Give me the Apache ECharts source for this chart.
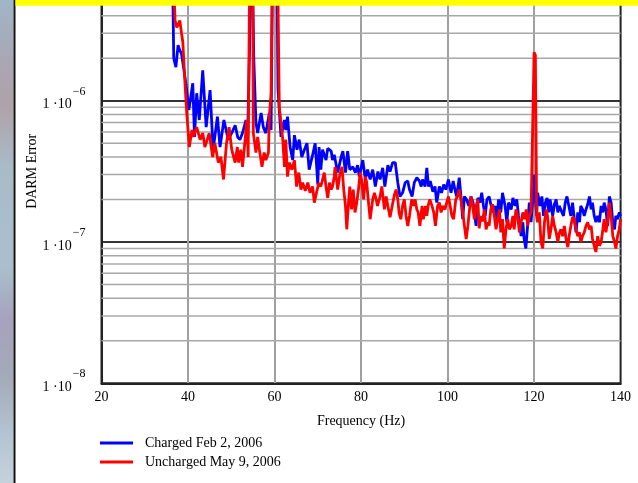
<!DOCTYPE html>
<html>
<head>
<meta charset="utf-8">
<script src="https://cdn.jsdelivr.net/npm/echarts@6/dist/echarts.min.js"></script>
<style>
  html, body { margin: 0; padding: 0; background: #fff; }
  #chart { width: 638px; height: 483px; }
</style>
</head>
<body>
<div id="chart"></div>
<script>
// frequency (Hz) and amplitude (units of 1e-7)
const blueFreq = [36.0, 36.5, 36.7, 37.2, 37.7, 38.1, 38.5, 39.0, 39.5, 40.2, 41.1, 41.5, 42.0, 42.6, 43.4, 44.2, 45.1, 45.8, 46.8, 47.4, 48.3, 49.3, 50.2, 50.9, 51.5, 52.0, 52.6, 53.4, 53.8, 54.3, 54.6, 54.9, 55.2, 55.7, 56.1, 56.9, 57.4, 58.0, 58.8, 59.2, 59.7, 60.4, 60.8, 61.1, 61.5, 62.3, 62.6, 63.0, 63.6, 64.2, 64.6, 65.2, 65.7, 66.3, 66.9, 67.5, 68.0, 68.7, 69.4, 70.0, 70.3, 70.7, 71.1, 71.9, 72.3, 73.1, 73.4, 73.8, 74.6, 75.4, 75.8, 76.4, 76.9, 77.4, 78.1, 78.7, 79.2, 79.6, 80.4, 81.0, 81.5, 82.1, 82.7, 83.3, 83.9, 84.4, 85.0, 85.5, 86.2, 86.7, 87.3, 87.9, 88.5, 89.0, 89.6, 90.2, 90.8, 91.2, 91.8, 92.3, 92.9, 93.5, 93.9, 94.2, 94.8, 95.2, 95.6, 96.0, 96.6, 97.1, 97.5, 98.1, 98.6, 99.1, 99.6, 100.2, 100.8, 101.3, 101.7, 102.1, 102.7, 103.1, 103.5, 103.9, 104.4, 104.9, 105.4, 105.9, 106.6, 107.0, 107.5, 107.9, 108.3, 108.7, 109.1, 109.6, 110.0, 110.6, 111.0, 111.4, 111.8, 112.3, 112.7, 113.3, 113.7, 114.1, 114.7, 115.1, 115.6, 116.0, 116.4, 117.0, 117.4, 117.7, 118.1, 118.5, 118.9, 119.3, 119.8, 120.0, 120.2, 120.6, 120.8, 121.4, 121.8, 122.2, 122.6, 123.0, 123.4, 123.7, 124.3, 124.7, 125.1, 125.5, 125.8, 126.2, 126.8, 127.2, 127.6, 128.0, 128.5, 128.9, 129.3, 129.7, 130.1, 130.5, 130.8, 131.2, 131.6, 132.0, 132.4, 132.8, 133.2, 133.5, 133.9, 134.3, 134.7, 135.1, 135.5, 135.9, 136.2, 136.6, 137.0, 137.4, 137.8, 138.2, 138.6, 138.9, 139.3, 139.7, 140.0]
const blueVal = [90, 55, 20, 17.3, 24.7, 22.7, 21.5, 17, 13.3, 8.6, 13.3, 5.55, 11.3, 7.3, 16.4, 6.5, 11.9, 4.5, 7.7, 4.7, 7.3, 5.3, 6.0, 6.7, 5.5, 5.3, 5.9, 7.3, 5.9, 30, 300, 300, 20, 7.0, 5.9, 8.2, 6.5, 5.9, 8.2, 6.2, 300, 300, 12, 8.6, 5.55, 7.3, 6.2, 7.7, 4.7, 3.8, 5.7, 4.5, 5.3, 4.0, 4.5, 5.0, 3.25, 4.0, 5.0, 2.55, 4.7, 3.25, 4.5, 3.8, 4.6, 4.4, 3.8, 4.15, 3.1, 4.0, 4.4, 3.1, 4.4, 3.25, 3.4, 3.1, 3.5, 2.9, 3.8, 2.77, 3.25, 2.77, 3.25, 2.47, 3.15, 2.77, 3.35, 2.47, 3.5, 3.15, 3.65, 3.65, 2.63, 2.1, 2.23, 2.63, 2.7, 2.35, 2.1, 2.63, 2.85, 2.7, 2.47, 2.77, 2.47, 3.35, 2.47, 2.7, 2.27, 2.47, 1.9, 2.47, 2.23, 2.55, 2.35, 2.77, 2.23, 2.7, 2.35, 2.1, 2.85, 2.1, 1.45, 2.1, 2.0, 1.8, 2.1, 1.9, 1.3, 2.05, 1.9, 2.23, 1.8, 1.53, 2.0, 2.1, 1.85, 1.62, 1.8, 1.45, 2.0, 1.62, 2.23, 1.8, 1.38, 1.9, 1.7, 2.05, 1.8, 2.0, 1.53, 1.1, 1.38, 1.05, 0.9, 1.3, 1.9, 1.38, 2.2, 3.0, 2.2, 1.53, 2.23, 1.8, 2.1, 1.53, 1.9, 2.05, 1.62, 2.0, 1.53, 1.85, 2.0, 1.62, 1.8, 1.8, 1.53, 1.9, 2.1, 2.15, 1.53, 1.9, 1.45, 1.17, 1.62, 1.38, 1.8, 1.7, 1.53, 1.7, 1.85, 2.1, 1.7, 1.9, 1.53, 1.38, 1.53, 1.38, 1.8, 1.62, 1.9, 1.7, 1.3, 2.1, 1.9, 1.38, 1.23, 1.53, 1.45, 1.62, 1.53]

const redFreq = [36.0, 36.6, 36.9, 37.0, 37.4, 37.8, 38.1, 38.5, 38.8, 39.3, 39.7, 40.3, 40.9, 41.2, 42.0, 42.8, 43.4, 43.9, 44.9, 45.7, 46.2, 47.0, 47.6, 48.2, 48.9, 49.5, 50.1, 50.9, 51.4, 51.7, 52.2, 52.6, 53.2, 53.6, 53.9, 54.4, 54.9, 55.1, 55.7, 56.1, 56.5, 57.1, 57.6, 58.0, 58.6, 58.8, 59.2, 59.7, 60.5, 61.1, 61.5, 61.9, 62.3, 62.6, 63.0, 63.4, 64.0, 64.6, 65.1, 65.6, 66.1, 66.5, 67.1, 67.7, 68.2, 68.8, 69.2, 69.7, 70.2, 70.7, 71.1, 71.5, 71.9, 72.3, 72.7, 73.1, 73.4, 73.8, 74.0, 74.6, 75.1, 75.6, 76.0, 76.4, 76.7, 77.1, 77.4, 77.8, 78.2, 78.6, 79.0, 79.4, 79.8, 80.1, 80.6, 81.0, 81.3, 81.8, 82.1, 82.7, 83.1, 83.5, 83.8, 84.4, 84.8, 85.4, 85.8, 86.2, 86.7, 87.2, 87.7, 88.1, 88.5, 88.8, 89.2, 89.6, 90.0, 90.4, 90.8, 91.2, 91.7, 92.1, 92.5, 92.9, 93.2, 93.6, 94.1, 94.4, 94.9, 95.2, 95.5, 95.9, 96.4, 96.8, 97.2, 97.7, 98.1, 98.5, 98.9, 99.4, 99.8, 100.2, 100.6, 101.0, 101.4, 101.9, 102.3, 102.7, 103.1, 103.5, 103.9, 104.3, 104.7, 105.0, 105.4, 105.8, 106.2, 106.6, 107.0, 107.3, 107.7, 108.1, 108.5, 108.9, 109.3, 109.6, 110.0, 110.4, 110.8, 111.2, 111.6, 112.0, 112.3, 112.7, 113.1, 113.5, 113.9, 114.3, 114.7, 115.1, 115.4, 115.8, 116.2, 116.6, 117.0, 117.4, 117.8, 118.2, 118.5, 118.9, 119.3, 119.7, 120.0, 120.3, 120.6, 120.8, 121.2, 121.6, 122.0, 122.4, 122.8, 123.1, 123.5, 123.9, 124.3, 124.7, 125.1, 125.5, 125.8, 126.2, 126.6, 127.0, 127.4, 127.8, 128.1, 128.5, 128.9, 129.3, 129.7, 130.1, 130.5, 130.8, 131.2, 131.6, 132.0, 132.4, 132.8, 133.2, 133.5, 133.9, 134.3, 134.7, 135.1, 135.5, 135.9, 136.2, 136.6, 137.0, 137.4, 137.8, 138.2, 138.6, 138.9, 139.3, 139.7, 140.0]
const redVal = [150, 90, 45, 37, 33, 35, 37, 30, 25.9, 13.3, 8.2, 4.7, 6.2, 5.55, 6.5, 5.3, 5.9, 4.7, 5.9, 4.0, 5.0, 3.65, 4.0, 2.77, 5.0, 6.5, 4.5, 3.65, 4.7, 3.65, 4.5, 3.4, 5.3, 7.3, 4.0, 300, 300, 5.9, 4.3, 5.55, 4.5, 3.4, 4.3, 3.8, 4.3, 7.7, 11.3, 300, 300, 9.0, 7.0, 5.3, 3.4, 5.3, 2.9, 3.65, 3.25, 3.8, 2.47, 3.1, 2.35, 2.63, 2.3, 2.63, 2.23, 2.47, 1.9, 2.23, 2.6, 2.47, 2.77, 3.1, 2.47, 2.05, 2.63, 2.35, 2.47, 2.9, 3.4, 2.35, 3.0, 3.4, 2.35, 1.8, 1.23, 1.9, 2.47, 1.7, 2.35, 1.62, 1.9, 2.35, 3.1, 2.77, 2.0, 2.9, 2.63, 1.8, 1.45, 2.0, 2.23, 2.0, 1.8, 2.1, 2.47, 1.7, 2.1, 1.8, 1.5, 1.8, 2.15, 2.35, 2.0, 1.6, 1.45, 1.8, 2.0, 1.53, 1.3, 1.53, 2.0, 1.8, 2.0, 1.7, 1.62, 1.3, 1.8, 1.45, 1.8, 1.53, 1.8, 2.0, 1.8, 1.62, 1.3, 1.8, 1.9, 1.62, 1.8, 1.7, 1.9, 2.1, 1.8, 1.53, 1.45, 2.0, 2.1, 2.35, 2.0, 1.62, 1.3, 1.05, 1.3, 1.62, 2.1, 1.8, 1.45, 1.8, 2.0, 1.25, 1.53, 1.4, 1.7, 1.23, 1.38, 1.3, 1.7, 1.85, 1.53, 1.23, 1.45, 1.7, 1.17, 1.45, 0.9, 1.23, 1.45, 1.23, 1.3, 1.53, 1.23, 1.7, 1.53, 1.17, 1.38, 1.62, 1.45, 1.7, 1.3, 1.53, 1.62, 1.6, 22, 21, 1.5, 1.38, 1.62, 1.0, 0.9, 1.38, 1.7, 1.53, 1.05, 1.23, 1.53, 1.3, 1.17, 1.0, 1.15, 1.23, 1.1, 1.3, 1.05, 0.92, 1.1, 1.3, 1.5, 1.45, 1.23, 1.1, 1.17, 1.0, 1.1, 1.17, 1.3, 1.38, 1.23, 1.3, 1.05, 0.94, 0.85, 1.1, 0.94, 1.0, 1.23, 1.45, 1.17, 1.38, 1.9, 1.53, 1.1, 1.0, 0.9, 1.1, 1.23, 1.45]

const seriesNames = ['Charged Feb 2, 2006', 'Uncharged May 9, 2006']
const xTicks = [20, 40, 60, 80, 100, 120, 140]
const decades = [1e-8, 1e-7, 1e-6, 1e-5]
const minorSteps = [2, 3, 4, 5, 6, 7, 8, 9]

const FONT = '"Liberation Serif", "DejaVu Serif", serif'
const UNIT = 1e-7

// minor horizontal grid lines (2..9 per decade)
const minorLevels = []
decades.slice(0, 3).forEach((d) => {
  minorSteps.forEach((m) => minorLevels.push(m * d))
})

const xMin = xTicks[0]
const xMax = xTicks[xTicks.length - 1]

// one flat line series per minor level, drawn under the data
const minorGridSeries = minorLevels.map((v) => ({
  type: 'line',
  silent: true,
  showSymbol: false,
  z: 1,
  lineStyle: { color: '#a8a8a8', width: 1.5 },
  emphasis: { disabled: true },
  data: [[xMin, v], [xMax, v]]
}))

const chart = echarts.init(document.getElementById('chart'), null, { renderer: 'canvas' })

const option = {
  animation: false,
  backgroundColor: '#fff',
  grid: {
    left: 101.5,
    right: 17.4,
    top: -40.6,
    bottom: 99.7,
    outerBoundsMode: 'none',
    show: true,
    borderColor: '#222',
    borderWidth: 2,
    backgroundColor: 'transparent'
  },
  legend: {
    data: seriesNames,
    orient: 'vertical',
    left: 95,
    top: 431,
    icon: 'rect',
    itemWidth: 33,
    itemHeight: 3,
    itemGap: 5,
    selectedMode: false,
    textStyle: { fontFamily: FONT, fontSize: 14, color: '#000', lineHeight: 14, padding: [0, 0, 0, 7] }
  },
  xAxis: {
    type: 'value',
    min: xMin,
    max: xMax,
    interval: 20,
    name: 'Frequency (Hz)',
    nameLocation: 'middle',
    nameGap: 31,
    nameTextStyle: { fontFamily: FONT, fontSize: 14, color: '#000' },
    axisLine: { show: true, lineStyle: { color: '#222', width: 2 } },
    axisTick: { show: false },
    axisLabel: { fontFamily: FONT, fontSize: 14, color: '#000', margin: 7 },
    splitLine: { show: true, showMinLine: false, showMaxLine: false, lineStyle: { color: '#a0a0a0', width: 2 } }
  },
  yAxis: {
    type: 'log',
    logBase: 10,
    min: decades[0],
    max: decades[decades.length - 1],
    name: 'DARM Error',
    nameLocation: 'middle',
    nameGap: 62,
    nameMoveOverlap: false,
    nameTextStyle: { fontFamily: FONT, fontSize: 14, color: '#000' },
    axisLine: { show: true, lineStyle: { color: '#222', width: 2 } },
    axisTick: { show: false },
    axisLabel: {
      margin: 16,
      padding: [0, 0, 4, 0],
      formatter: (value) => {
        const exp = Math.round(Math.log10(value))
        return '{b|1 \u00b710}{s|\u2212' + (-exp) + '}'
      },
      rich: {
        b: { fontFamily: FONT, fontSize: 14, color: '#000', lineHeight: 26, verticalAlign: 'bottom' },
        s: { fontFamily: FONT, fontSize: 12, color: '#000', lineHeight: 26, verticalAlign: 'top', padding: [0, 0, 0, 1] }
      }
    },
    splitLine: { show: true, showMinLine: false, lineStyle: { color: '#333', width: 2 } }
  },
  series: [
    ...minorGridSeries,
    {
      name: seriesNames[0],
      type: 'line',
      showSymbol: false,
      z: 3,
      color: '#0000ff',
      lineStyle: { color: '#0000ff', width: 2.8 },
      data: blueFreq.map((f, i) => [f, blueVal[i] * UNIT])
    },
    {
      name: seriesNames[1],
      type: 'line',
      showSymbol: false,
      z: 4,
      color: '#ff0000',
      lineStyle: { color: '#ff0000', width: 2.8 },
      data: redFreq.map((f, i) => [f, redVal[i] * UNIT])
    }
  ],
  graphic: [
    {
      type: 'rect',
      z: 100,
      shape: { x: 0, y: 0, width: 13.5, height: 483 },
      style: {
        fill: new echarts.graphic.LinearGradient(0, 0, 0, 1, [
          { offset: 0, color: '#9fb6c6' },
          { offset: 0.13, color: '#aaa6b4' },
          { offset: 0.22, color: '#b0a2aa' },
          { offset: 0.35, color: '#a8bcc8' },
          { offset: 0.55, color: '#a9c0cc' },
          { offset: 0.66, color: '#a8a2bc' },
          { offset: 0.78, color: '#a3aab8' },
          { offset: 0.9, color: '#b4c4d2' },
          { offset: 1, color: '#c4d2dc' }
        ])
      }
    },
    {
      type: 'rect',
      z: 100,
      shape: { x: 13.5, y: 0, width: 2, height: 483 },
      style: { fill: '#111' }
    },
    {
      type: 'rect',
      z: 100,
      shape: { x: 15.5, y: 0, width: 623, height: 5.7 },
      style: { fill: '#ffff00' }
    }
  ]
}

chart.setOption(option)
</script>
</body>
</html>
